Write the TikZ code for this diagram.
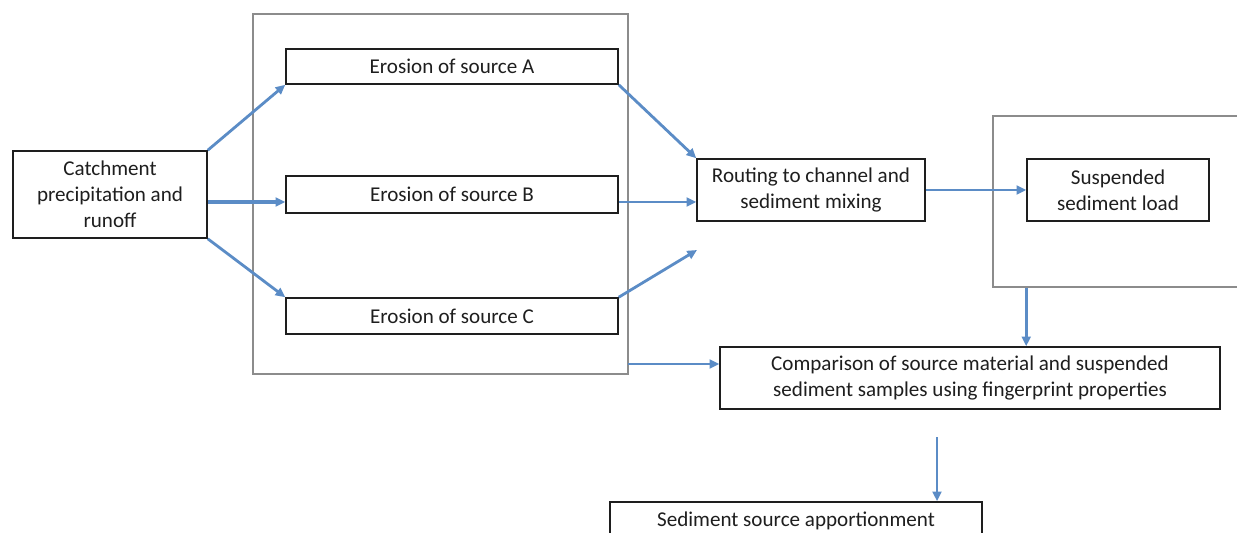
\documentclass[tikz,border=0pt]{standalone}
\usepackage{fontspec}
\setmainfont{Carlito}
\usepackage{xcolor}
\usepackage{tikz}
\usetikzlibrary{calc,arrows.meta}
\definecolor{ink}{HTML}{1E1E1E}
\definecolor{frameg}{HTML}{8C8C8C}
\definecolor{flow}{HTML}{5B8CC6}
\tikzset{
  box/.style={draw=ink, line width=0.9pt, align=center, inner sep=1pt, text=ink, font=\fontsize{12}{14.8}\selectfont},
  frame/.style={draw=frameg, line width=0.7pt, inner sep=0pt},
  arr/.style={draw=flow, line width=1.6pt, -{Triangle[length=5.5pt,width=5pt]}},
  arrw/.style={arr, line width=2.5pt},
}
\begin{document}
\begin{tikzpicture}[x=0.02cm,y=-0.02cm]
  \useasboundingbox (0,0) rectangle (1237,533);
  \coordinate (midB) at (0,202);
  \coordinate (looseC) at (697,250);
  \coordinate (srcout) at (628,364);
  \coordinate (gapA) at (937,437);

  \node[frame, minimum width=7.5cm, minimum height=7.2cm] (srcbox) at (440.5,194) {};
  \node[frame, minimum width=4.94cm, minimum height=3.42cm] (loadbox) at (1116.5,201.5) {};

  \node[box, minimum width=3.88cm, minimum height=1.74cm] (catch) at (110,194.5)
    {Catchment\\precipitation and\\runoff};
  \node[box, minimum width=6.64cm, minimum height=0.70cm] (erA) at (452,66.5) {Erosion of source A};
  \node[box, minimum width=6.64cm, minimum height=0.74cm] (erB) at (452,194.5) {Erosion of source B};
  \node[box, minimum width=6.64cm, minimum height=0.72cm] (erC) at (452,316) {Erosion of source C};
  \node[box, minimum width=4.56cm, minimum height=1.24cm] (route) at (811,190)
    {Routing to channel and\\sediment mixing};
  \node[box, minimum width=3.64cm, minimum height=1.24cm] (susp) at (1118,190)
    {Suspended\\sediment load};
  \node[box, minimum width=10cm, minimum height=1.24cm] (comp) at (970,378)
    {Comparison of source material and suspended\\sediment samples using fingerprint properties};
  \node[box, minimum width=7.44cm, minimum height=0.76cm] (appor) at (796,521)
    {Sediment source apportionment};

  % catchment to sources
  \draw[arr] (catch.north east) -- (erA.south west);
  \draw[arrw] (catch.east |- midB) -- (erB.west |- midB);
  \draw[arr] (catch.south east) -- (erC.north west);
  % sources to routing
  \draw[arr] (erA.south east) -- (route.north west);
  \draw[arr] (erB.east |- midB) -- (route.west |- midB);
  \draw[arr] (erC.north east) -- (looseC);
  \draw[arr] (route.east) -- (susp.west);
  \draw[arr] (susp.west |- loadbox.south) -- (susp.west |- comp.north);
  \draw[arr] (srcout) -- (srcout -| comp.west);
  \draw[arr] (gapA) -- (gapA |- appor.north);
\end{tikzpicture}
\end{document}
